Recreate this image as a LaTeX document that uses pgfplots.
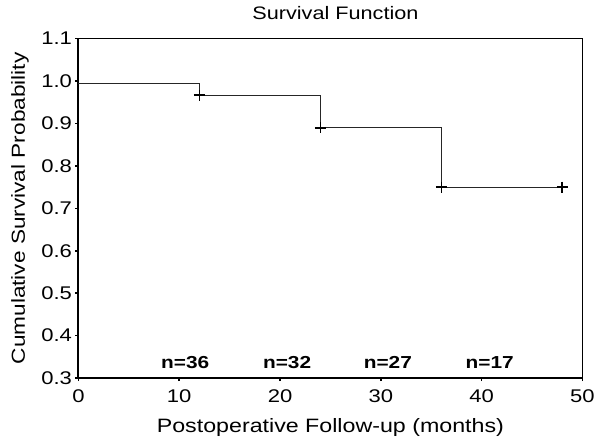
\documentclass[border=0pt]{standalone}
\usepackage{fontspec}
\setmainfont{Liberation Sans}[FakeStretch=1.2]
\usepackage{pgfplots}
\pgfplotsset{compat=1.18}

\begin{document}
\begin{tikzpicture}
  \begin{axis}[
    scale only axis,
    width=508pt,
    height=342pt,
    xmin=0, xmax=50,
    ymin=0.3, ymax=1.1,
    xtick={0,10,...,50},
    ytick={0.3,0.4,...,1.1},
    xtick pos=bottom,
    ytick pos=left,
    yticklabel style={/pgf/number format/.cd,fixed,fixed zerofill,precision=1},
    /pgf/number format/assume math mode=true,
    tick align=outside,
    major tick length=3pt,
    tick style={black, line width=1.6pt},
    axis line style={black, line width=0.7pt},
    title={Survival Function},
    title style={at={(axis description cs:0.51,1.058)}, anchor=center,
      font=\fontsize{18.2}{21}\selectfont},
    xlabel={Postoperative Follow-up (months)},
    xlabel style={at={(axis description cs:0.5,-0.147)}, anchor=center,
      font=\fontsize{19.5}{22}\selectfont},
    ylabel={Cumulative Survival Probability},
    ylabel style={at={(axis description cs:-0.116,0.5)}, anchor=center, rotate=0,
      font=\fontsize{19}{22}\selectfont},
    tick label style={font=\fontsize{18.5}{21}\selectfont},
    xticklabel style={yshift=-5pt},
    clip=false,
  ]
    \path (rel axis cs:-0.1555,-0.184) rectangle (rel axis cs:1.0217,1.114);
    \draw[line width=1.8pt] (rel axis cs:0,0) -- (rel axis cs:0,1);
    \draw[line width=1.6pt] (rel axis cs:0,0) -- (rel axis cs:1,0);
    \addplot[const plot, black!85, line width=0.9pt, mark=none] coordinates {
      (0,0.994) (12,0.967) (24,0.89) (36,0.75) (48,0.75)
    };
    \addplot[only marks, mark=+, mark size=5.5pt, black, line width=1.6pt] coordinates {
      (12,0.967) (24,0.89) (36,0.75) (48,0.75)
    };
    \node[font=\bfseries\fontsize{17.5}{20}\selectfont] at (axis cs:10.6,0.337) {n=36};
    \node[font=\bfseries\fontsize{17.5}{20}\selectfont] at (axis cs:20.7,0.337) {n=32};
    \node[font=\bfseries\fontsize{17.5}{20}\selectfont] at (axis cs:30.7,0.337) {n=27};
    \node[font=\bfseries\fontsize{17.5}{20}\selectfont] at (axis cs:40.8,0.337) {n=17};
  \end{axis}
\end{tikzpicture}
\end{document}
